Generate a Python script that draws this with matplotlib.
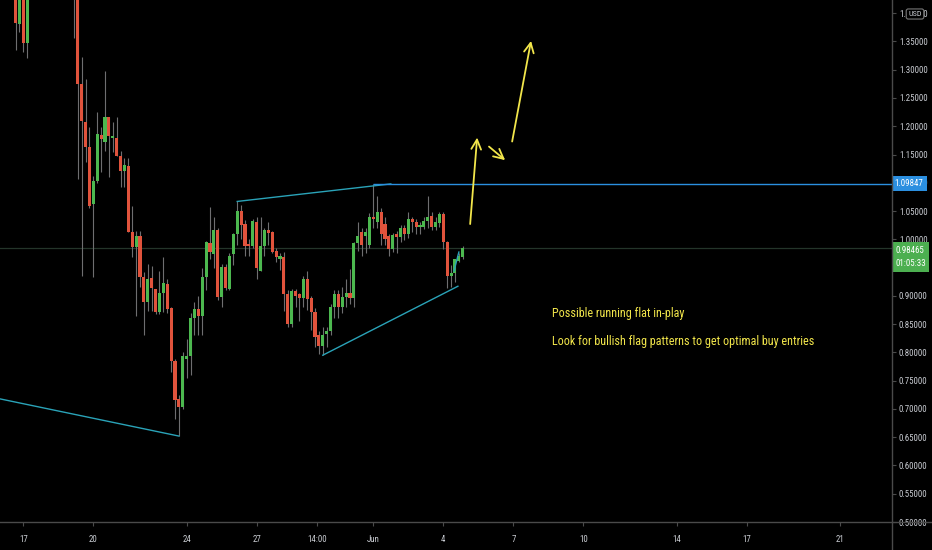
import numpy as np
import pandas as pd
import matplotlib
matplotlib.use("Agg")
import matplotlib.pyplot as plt
import matplotlib.dates as mdates
from matplotlib.lines import Line2D
from matplotlib import font_manager as fm

# TradingView uses a narrow face; pick the narrowest installed one
faces = {(f.name, f.stretch) for f in fm.fontManager.ttflist}
names = {n for n, _ in faces}
font_family = 'DejaVu Sans'
for cand in ['Liberation Sans Narrow', 'Roboto Condensed', 'Open Sans Condensed', 'DejaVu Sans Condensed']:
    if cand in names:
        font_family = cand
        break
plt.rcParams['font.family'] = [font_family, 'DejaVu Sans']
if font_family == 'DejaVu Sans' and any(n == 'DejaVu Sans' and s in ('condensed', 'semi-condensed') for n, s in faces):
    plt.rcParams['font.stretch'] = 'condensed'
narrow = font_family != 'DejaVu Sans' or plt.rcParams['font.stretch'] == 'condensed'

# 4h candles, first one at 2020-05-16 16:00
opens = [1.450, 1.381, 1.440, 1.348, 1.460, 1.520, 1.580, 1.620, 1.570, 1.640,
         1.600, 1.550, 1.580, 1.520, 1.490, 1.510, 1.470, 1.275, 1.208, 1.164,
         1.062, 1.103, 1.184, 1.173, 1.217, 1.180, 1.180, 1.147, 1.120, 1.129,
         1.013, 0.986, 1.006, 0.934, 0.889, 0.932, 0.912, 0.872, 0.905, 0.921,
         0.879, 0.784, 0.717, 0.704, 0.789, 0.794, 0.861, 0.877, 0.865, 0.933,
         0.993, 0.974, 1.016, 0.898, 0.951, 0.912, 0.974, 1.009, 1.050, 1.027,
         0.992, 0.988, 1.030, 0.944, 0.988, 1.016, 1.013, 0.979, 0.965, 0.969,
         0.904, 0.851, 0.909, 0.903, 0.896, 0.930, 0.897, 0.872, 0.830, 0.812,
         0.833, 0.837, 0.881, 0.904, 0.881, 0.898, 0.905, 0.897, 0.993, 1.013,
         1.006, 0.990, 1.039, 1.030, 1.048, 1.027, 1.006, 0.983, 1.009, 1.004,
         1.020, 1.009, 1.036, 1.030, 1.022, 1.022, 1.032, 1.042, 1.022, 1.028,
         1.044, 0.995, 0.935, 0.940, 0.962, 0.968]
highs = [1.470, 1.460, 1.450, 1.480, 1.550, 1.600, 1.660, 1.640, 1.680, 1.660,
         1.620, 1.600, 1.590, 1.540, 1.530, 1.530, 1.480, 1.323, 1.284, 1.198,
         1.112, 1.226, 1.198, 1.297, 1.217, 1.208, 1.217, 1.156, 1.143, 1.143,
         1.059, 1.015, 1.015, 0.942, 0.956, 0.953, 0.912, 0.944, 0.969, 0.930,
         0.880, 0.789, 0.724, 0.801, 0.824, 0.870, 0.890, 0.900, 0.950, 0.997,
         1.057, 1.040, 1.020, 0.956, 0.956, 0.975, 1.012, 1.067, 1.060, 1.035,
         1.000, 1.036, 1.040, 1.040, 1.020, 1.030, 1.015, 0.985, 0.975, 0.978,
         0.910, 0.912, 0.912, 0.905, 0.936, 0.944, 0.900, 0.878, 0.837, 0.845,
         0.845, 0.886, 0.910, 0.910, 0.915, 0.930, 0.947, 0.995, 1.030, 1.020,
         1.020, 1.046, 1.098, 1.076, 1.055, 1.040, 1.010, 1.012, 1.015, 1.026,
         1.025, 1.048, 1.040, 1.036, 1.030, 1.040, 1.076, 1.048, 1.040, 1.048,
         1.048, 0.997, 0.955, 0.965, 0.975, 0.988]
lows = [1.335, 1.367, 1.332, 1.321, 1.440, 1.500, 1.550, 1.540, 1.550, 1.570,
        1.520, 1.530, 1.490, 1.450, 1.460, 1.356, 1.106, 0.935, 1.136, 1.055,
        0.934, 1.100, 1.119, 1.156, 1.110, 1.154, 1.147, 1.092, 1.092, 1.013,
        0.969, 0.865, 0.916, 0.830, 0.874, 0.874, 0.868, 0.868, 0.872, 0.870,
        0.766, 0.683, 0.652, 0.700, 0.754, 0.760, 0.830, 0.830, 0.830, 0.910,
        0.965, 0.950, 0.893, 0.880, 0.910, 0.910, 0.955, 0.990, 1.000, 0.970,
        0.970, 0.985, 0.930, 0.944, 0.970, 0.990, 0.975, 0.960, 0.945, 0.874,
        0.845, 0.845, 0.880, 0.856, 0.880, 0.875, 0.840, 0.810, 0.798, 0.795,
        0.810, 0.830, 0.860, 0.860, 0.870, 0.880, 0.885, 0.880, 0.980, 0.970,
        0.975, 0.985, 1.020, 1.020, 0.990, 0.990, 0.970, 0.978, 0.975, 0.995,
        0.998, 1.003, 1.013, 1.010, 1.010, 1.018, 1.020, 1.016, 1.016, 1.022,
        0.982, 0.914, 0.916, 0.925, 0.960, 0.965]
closes = [1.383, 1.440, 1.348, 1.460, 1.520, 1.580, 1.620, 1.570, 1.640, 1.600,
          1.550, 1.580, 1.520, 1.490, 1.510, 1.470, 1.275, 1.210, 1.164, 1.059,
          1.104, 1.186, 1.177, 1.217, 1.182, 1.182, 1.147, 1.120, 1.131, 1.013,
          0.986, 1.006, 0.934, 0.889, 0.930, 0.914, 0.872, 0.905, 0.923, 0.877,
          0.784, 0.715, 0.703, 0.793, 0.794, 0.861, 0.877, 0.865, 0.933, 0.995,
          0.978, 1.016, 0.898, 0.951, 0.914, 0.970, 1.009, 1.050, 1.025, 0.988,
          0.988, 1.032, 0.949, 0.988, 1.016, 1.011, 0.978, 0.968, 0.970, 0.904,
          0.851, 0.909, 0.900, 0.896, 0.930, 0.895, 0.872, 0.828, 0.812, 0.830,
          0.837, 0.881, 0.904, 0.881, 0.898, 0.905, 0.897, 0.993, 1.006, 0.990,
          1.013, 1.040, 1.036, 1.048, 1.009, 1.000, 0.983, 1.008, 1.004, 1.020,
          1.009, 1.036, 1.030, 1.022, 1.025, 1.032, 1.040, 1.022, 1.030, 1.044,
          0.995, 0.935, 0.940, 0.965, 0.970, 0.98465]

# drawings
trend_lines = [
    (['2020-05-15 22:00', '2020-05-23 16:00'], [0.7185, 0.652]),
    (['2020-05-26 04:00', '2020-06-01 18:00'], [1.067, 1.098]),
    (['2020-05-29 20:00', '2020-06-04 15:00'], [0.795, 0.917]),
    (['2020-06-04 11:00', '2020-06-04 16:00'], [0.944, 0.9775]),
]
resistance = 1.09847
resistance_from = '2020-06-01 00:00'
last_price = 0.98465
countdown = '01:05:33'
arrows = [
    (['2020-06-05 03:36', '2020-06-05 10:48'], [1.027, 1.180]),
    (['2020-06-05 23:00', '2020-06-06 15:36'], [1.164, 1.140]),
    (['2020-06-06 22:48', '2020-06-07 18:14'], [1.173, 1.351]),
]
notes = ["Possible running flat in-play",
         "Look for bullish flag patterns to get optimal buy entries"]
note_pos = ('2020-06-08 16:00', [0.868, 0.819])

tick_dates = ['2020-05-17 00:00', '2020-05-20 00:00', '2020-05-24 00:00', '2020-05-27 00:00',
              '2020-05-29 14:00', '2020-06-01 00:00', '2020-06-04 00:00', '2020-06-07 00:00',
              '2020-06-10 00:00', '2020-06-14 00:00', '2020-06-17 00:00', '2020-06-21 00:00']
tick_labels = ['17', '20', '24', '27', '14:00', 'Jun', '4', '7', '10', '14', '17', '21']


def dnum(ts):
    return mdates.date2num(pd.to_datetime(ts, format='%Y-%m-%d %H:%M'))


o = np.array(opens); h = np.array(highs); l = np.array(lows); c = np.array(closes)
times = pd.date_range('2020-05-16 16:00', periods=len(o), freq='4h')
x = mdates.date2num(times)

green = '#4cb84f'
red = '#e0533c'
teal = '#2aa3b8'
blue = '#2b8fe0'
yellow = '#f2e64b'
txt = '#c9ccd2'
axis_col = '#4a4a4a'

scale_fs = 6.4 if narrow else 5.6
note_fs = 8.7 if narrow else 7.2

fig = plt.figure(figsize=(9.32, 5.5), dpi=100, facecolor='black')
ax = fig.add_axes([0, 28/550, 892/932, 522/550], facecolor='black')

ax.axhline(last_price, color='#24352a', lw=0.9, zorder=1)

up = c >= o
cols = np.where(up, green, red)
ax.vlines(x, l, h, color='#6e6e70', lw=0.8, zorder=2)
ax.bar(x, np.maximum(np.abs(c - o), 0.002), bottom=np.minimum(o, c), width=0.13,
       color=cols, linewidth=0, zorder=3)

for ts, ps in trend_lines:
    ax.plot(dnum(ts), ps, color=teal, lw=1.0, zorder=4)

x0 = dnum(['2020-05-16 00:00'])[0]
x1 = x0 + 38.23
ax.hlines(resistance, dnum([resistance_from])[0], x1, color=blue, lw=1.0, zorder=4)

for ts, ps in arrows:
    xs = dnum(ts)
    ax.annotate('', xy=(xs[1], ps[1]), xytext=(xs[0], ps[0]),
                arrowprops=dict(arrowstyle='->,head_length=0.7,head_width=0.35',
                                color=yellow, lw=1.3, shrinkA=0, shrinkB=0), zorder=5)

nx = dnum([note_pos[0]])[0]
for s, py in zip(notes, note_pos[1]):
    ax.text(nx, py, s, color=yellow, fontsize=note_fs, ha='left', va='center')

ax.set_xlim(x0, x1)
ax.set_ylim(0.5035, 1.4233)

yt = np.arange(0.5, 1.4001, 0.05)
ax.yaxis.tick_right()
ax.set_yticks(yt)
ax.set_yticklabels([f'{v:.5f}' for v in yt])
ax.set_xticks(dnum(tick_dates))
ax.set_xticklabels(tick_labels)
ax.tick_params(axis='y', colors=axis_col, labelcolor=txt, labelsize=scale_fs, length=3, width=0.8, pad=2)
ax.tick_params(axis='x', colors=axis_col, labelcolor=txt, labelsize=scale_fs, length=3, width=0.8, pad=6)
for sp in ax.spines.values():
    sp.set_visible(False)

fig.add_artist(Line2D([892/932, 892/932], [0, 1], color=axis_col, lw=1.0))
fig.add_artist(Line2D([0, 1], [28/550, 28/550], color=axis_col, lw=1.0))

# price labels on the scale
tr = ax.get_yaxis_transform()
ax.text(1.003, resistance, f'{resistance:.5f}', transform=tr, color='white', fontsize=scale_fs,
        ha='left', va='center', zorder=6, clip_on=False,
        bbox=dict(boxstyle='square,pad=0.35', fc=blue, ec='none'))
ax.annotate(f'{last_price:.5f}\n{countdown}', xy=(1.0, last_price), xycoords=tr,
            xytext=(2.2, 1.6), textcoords='offset points', color='white', fontsize=scale_fs,
            ha='left', va='top', linespacing=1.6, annotation_clip=False, zorder=6,
            bbox=dict(boxstyle='square,pad=0.4', fc='#4caf50', ec='none'))
fig.text(915/932, 1 - 14/550, 'USD', color=txt, fontsize=scale_fs - 0.5, ha='center', va='center',
         zorder=7, bbox=dict(boxstyle='round,pad=0.25', fc='black', ec='#777777', lw=0.8))

fig.savefig('out.png', dpi=100, facecolor='black')
